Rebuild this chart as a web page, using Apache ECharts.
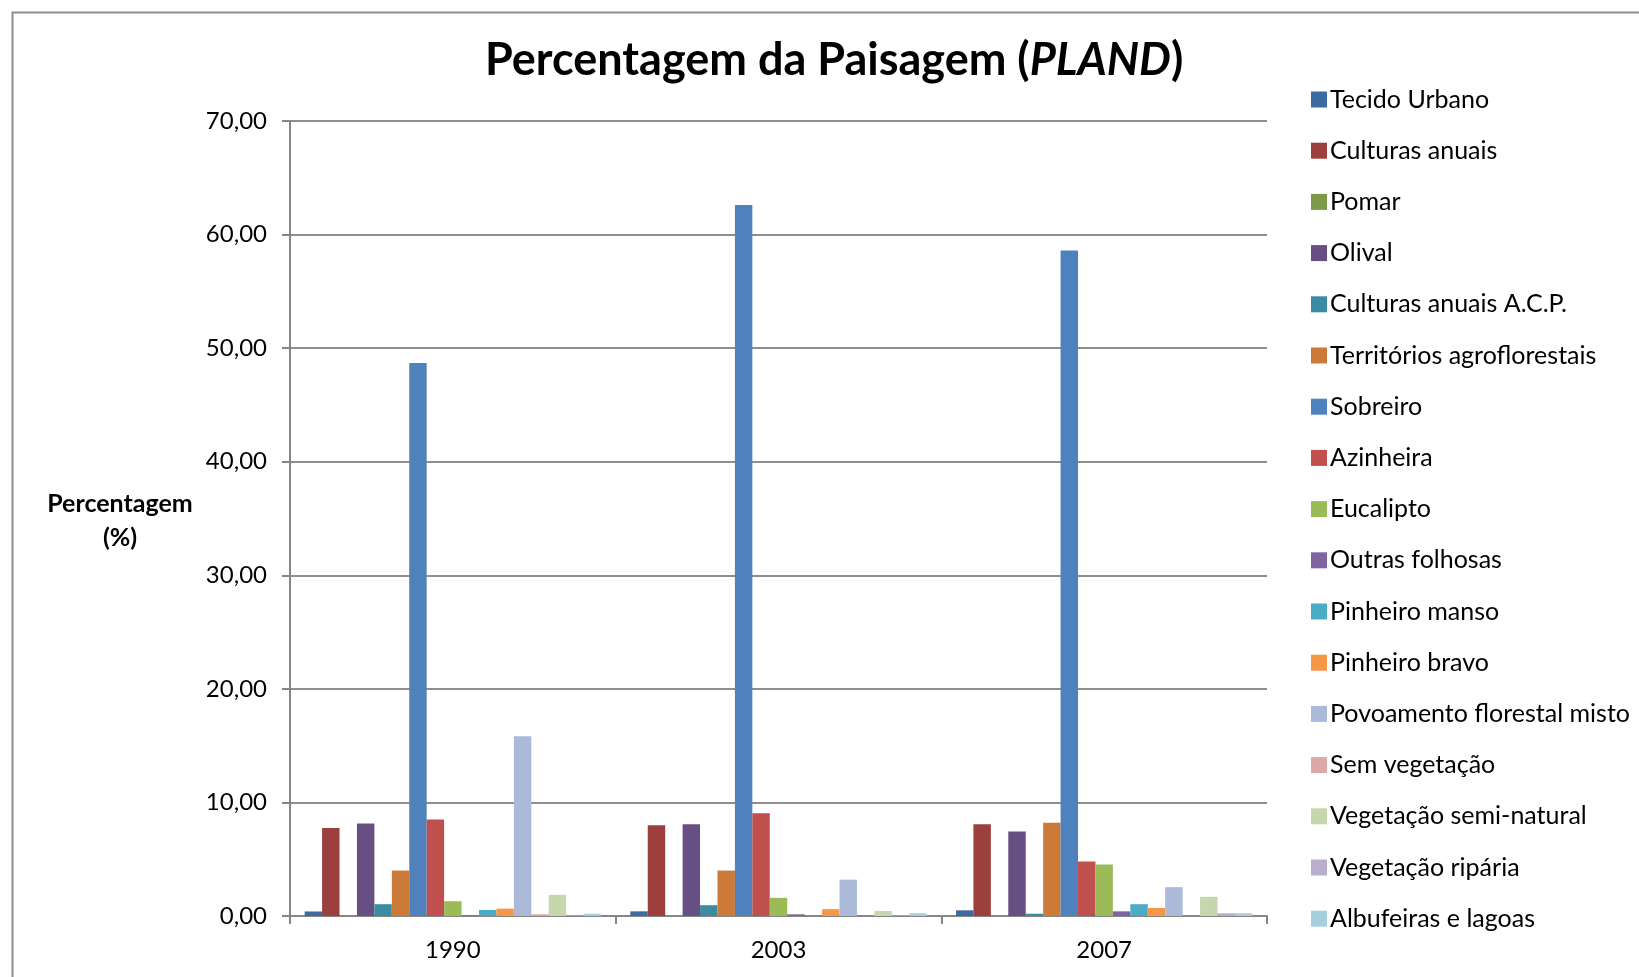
<!DOCTYPE html>
<html lang="pt">
<head>
    <meta charset="UTF-8">
    <title>Percentagem da Paisagem (PLAND)</title>
    <script src="https://cdn.jsdelivr.net/npm/echarts@6/dist/echarts.min.js"></script>
    <style>
        html, body { margin: 0; padding: 0; background: #fff; }
        #chart { width: 1639px; height: 977px; }
    </style>
</head>
<body>
<div id="chart"></div>
<script>
    // anos (categorias do eixo x)
    const years = ['1990', '2003', '2007'];

    // classes de uso do solo (uma série por classe)
    const landCovers = [
        'Tecido Urbano', 'Culturas anuais', 'Pomar', 'Olival', 'Culturas anuais A.C.P.',
        'Territórios agroflorestais', 'Sobreiro', 'Azinheira', 'Eucalipto', 'Outras folhosas',
        'Pinheiro manso', 'Pinheiro bravo', 'Povoamento florestal misto', 'Sem vegetação',
        'Vegetação semi-natural', 'Vegetação ripária', 'Albufeiras e lagoas'
    ];

    // PLAND (%) por ano, na ordem de landCovers
    const pland1990 = [0.40, 7.75, 0, 8.14, 1.04, 4.00, 48.70, 8.49, 1.30, 0.06, 0.53, 0.65, 15.82, 0.15, 1.86, 0.05, 0.20];
    const pland2003 = [0.41, 7.99, 0, 8.08, 0.95, 4.00, 62.60, 9.05, 1.60, 0.15, 0, 0.60, 3.20, 0, 0.44, 0.05, 0.24];
    const pland2007 = [0.50, 8.08, 0, 7.43, 0.20, 8.22, 58.60, 4.79, 4.53, 0.41, 1.04, 0.71, 2.54, 0, 1.69, 0.24, 0.24];

    // eixo y
    const yTicks = [0, 10, 20, 30, 40, 50, 60, 70];

    const colors = [
        '#3d6aa0', '#9c3f3d', '#7e9a48', '#674f84', '#3b8ca2', '#cb7a38',
        '#4f81bd', '#c0504d', '#9bbb59', '#8064a2', '#4bacc6', '#f79646',
        '#aabad8', '#dba9a8', '#c7d7ad', '#b9aecb', '#a6cedc'
    ];

    const byYear = [pland1990, pland2003, pland2007];
    const font = 'Lato, "Open Sans", sans-serif';

    let myChart = echarts.init(document.getElementById('chart'));

    let series = landCovers.map(function (name, i) {
        return {
            name: name,
            type: 'bar',
            barGap: '0%',
            barCategoryGap: '9%',
            itemStyle: {color: colors[i]},
            data: byYear.map(function (vals) { return vals[i]; })
        };
    });

    let myOption = {
        backgroundColor: '#fff',
        animation: false,
        color: colors,
        title: {
            text: 'Percentagem da Paisagem ({it|PLAND})',
            left: 480,
            top: 33,
            textStyle: {
                fontFamily: font,
                fontSize: 45,
                fontWeight: 'bold',
                color: '#000',
                rich: {
                    it: {fontFamily: font, fontSize: 45, fontWeight: 'bold', fontStyle: 'italic', color: '#000'}
                }
            }
        },
        legend: {
            orient: 'vertical',
            left: 1306,
            top: 82,
            itemWidth: 16,
            itemHeight: 16,
            itemGap: 26.2,
            icon: 'rect',
            textStyle: {fontFamily: font, fontSize: 25, color: '#000', lineHeight: 25, padding: [0, 0, 0, -2]},
            data: landCovers
        },
        grid: {left: 290, right: 372, top: 121, bottom: 61, containLabel: false},
        xAxis: {
            type: 'category',
            data: years,
            boundaryGap: true,
            axisLine: {lineStyle: {color: '#868686', width: 2}},
            axisTick: {show: true, length: 8, lineStyle: {color: '#868686', width: 2}},
            axisLabel: {fontFamily: font, fontSize: 24, color: '#000', margin: 22}
        },
        yAxis: {
            type: 'value',
            min: yTicks[0],
            max: yTicks[yTicks.length - 1],
            interval: 10,
            axisLine: {show: true, lineStyle: {color: '#868686', width: 2}},
            axisTick: {show: true, length: 8, lineStyle: {color: '#868686', width: 2}},
            splitLine: {lineStyle: {color: '#8e8e8e', width: 2}},
            axisLabel: {
                fontFamily: font, fontSize: 24, color: '#000', margin: 23,
                formatter: function (v) { return v.toFixed(2).replace('.', ','); }
            }
        },
        graphic: [
            {
                type: 'rect',
                left: 10, top: 10,
                shape: {width: 1700, height: 1050},
                style: {fill: 'none', stroke: '#8c8c8c', lineWidth: 2},
                silent: true
            },
            {
                type: 'text',
                x: 120, y: 521,
                style: {
                    text: 'Percentagem\n(%)',
                    fontFamily: font, fontSize: 25, fontWeight: 'bold', fill: '#000',
                    textAlign: 'center', textVerticalAlign: 'middle', lineHeight: 34
                }
            }
        ],
        series: series
    };
    myChart.setOption(myOption);
</script>
</body>
</html>
